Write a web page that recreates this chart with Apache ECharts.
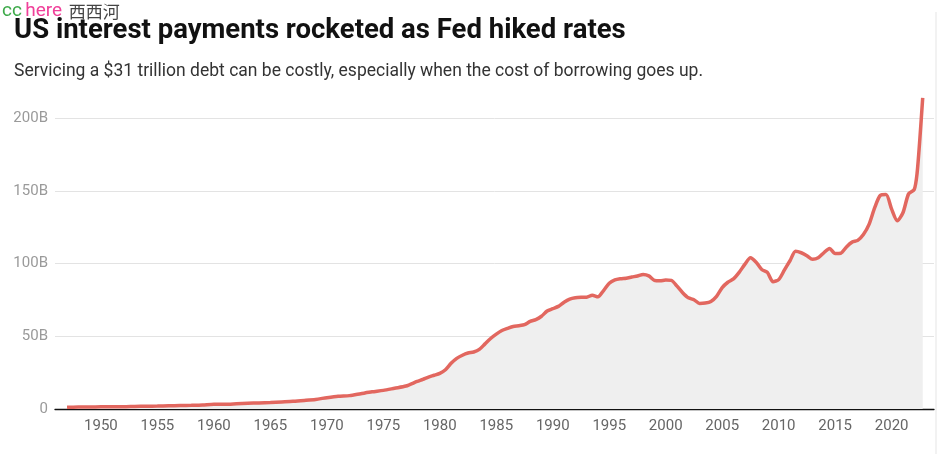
<!DOCTYPE html>
<html>
<head>
<meta charset="utf-8">
<script src="https://cdn.jsdelivr.net/npm/echarts@6/dist/echarts.min.js"></script>
<style>
html,body{margin:0;padding:0;background:#fff;}
#chart{width:937px;height:454px;}
</style>
</head>
<body>
<div id="chart"></div>
<script>
// Dates (decimal years) and quarterly interest payments (billions USD)
var years = [
  1947,1948,1949,1950,1951,1952,1953,1954,1955,1956,1957,1958,1959,1960,1961,1962,1963,1964,1965,1966,
  1967,1968,1969,1970,1971,1972,1973,1974,1975,1976,1977,1978,
  1978.5,1979,1979.5,1980,1980.5,1981,1981.5,1982,1982.5,1983,1983.5,1984,1984.5,1985,1985.5,1986,1986.5,
  1987,1987.5,1988,1988.5,1989,1989.5,1990,1990.5,1991,1991.5,1992,1992.5,1993,1993.5,1994,1994.5,
  1995,1995.5,1996,1996.5,1997,1997.5,1998,1998.5,1999,1999.5,2000,2000.5,2001,2001.5,2002,2002.5,
  2003,2003.5,2004,2004.5,2005,2005.5,2006,2006.5,2007,2007.5,2008,2008.5,2009,2009.5,2010,2010.5,
  2011,2011.5,2012,2012.5,2013,2013.5,2014,2014.5,2015,2015.5,2016,2016.5,2017,2017.5,2018,2018.5,
  2019,2019.5,2020,2020.5,2021,2021.5,2022,2022.25,2022.5,2022.75
];
var payments = [
  1.2,1.3,1.4,1.5,1.6,1.6,1.8,1.9,2.0,2.2,2.4,2.5,2.7,3.3,3.3,3.6,3.9,4.2,4.5,4.9,
  5.3,5.9,6.6,7.8,8.8,9.2,10.5,11.8,12.8,14.3,15.8,19.0,
  20.4,22.0,23.2,24.5,27.0,31.4,34.8,37.0,38.5,39.2,41.0,44.8,48.5,51.5,54.0,55.5,56.8,
  57.3,58.0,60.3,61.5,63.8,67.4,69.0,70.6,73.5,75.6,76.5,76.8,76.9,78.3,77.2,81.5,
  86.5,88.8,89.6,90.0,90.8,91.5,92.5,91.6,88.5,88.2,88.7,88.5,84.5,80.0,76.5,75.2,
  72.6,72.9,74.0,77.5,83.5,87.2,89.5,94.0,99.5,104.0,101.0,96.0,94.0,87.6,89.0,95.5,
  102.0,108.5,107.5,105.5,103.0,104.0,107.5,110.5,107.0,107.2,111.5,114.8,116.0,120.0,127.0,138.5,
  147.0,147.5,137.5,129.5,135.0,148.0,151.0,162.0,186.0,214.0
];
var xTickLabels = [1950,1955,1960,1965,1970,1975,1980,1985,1990,1995,2000,2005,2010,2015,2020];
var yTickValues = [0,50,100,150,200];

var seriesData = years.map(function(y,i){ return [y, payments[i]]; });

var chart = echarts.init(document.getElementById('chart'), null, {renderer:'canvas'});
chart.setOption({
  animation:false,
  backgroundColor:'#ffffff',
  title:[{
    text:'US interest payments rocketed as Fed hiked rates',
    left:9, top:12,
    textStyle:{fontFamily:'Roboto', fontWeight:'bold', fontSize:27.5, color:'#111111'}
  },{
    text:'Servicing a $31 trillion debt can be costly, especially when the cost of borrowing goes up.',
    left:9, top:58,
    textStyle:{fontFamily:'Roboto', fontWeight:'normal', fontSize:17.5, color:'#333333'}
  }],
  graphic:[{
    type:'text', left:2, top:2, z:100,
    style:{
      text:'{a|cc} {b|here}  {c|西西河}',
      rich:{
        a:{fill:'#3daa4a', fontSize:19, fontFamily:'Roboto'},
        b:{fill:'#f0409a', fontSize:19, fontFamily:'Roboto'},
        c:{fill:'#444444', fontSize:17, fontFamily:'Noto Sans CJK SC'}
      }
    }
  },{
    type:'rect', left:935.5, top:12, z:1,
    shape:{width:1, height:442},
    style:{fill:'#e6e6e6'}
  }],
  grid:{left:55, right:3, top:118.3, bottom:45, containLabel:false},
  xAxis:{
    type:'value',
    min:1945.935, max:2023.75,
    axisLine:{show:true, onZero:false, lineStyle:{color:'#111111', width:1.3}},
    axisTick:{show:false},
    splitLine:{show:false},
    axisLabel:{
      customValues:xTickLabels,
      color:'#666666', fontSize:15, fontFamily:'Roboto', margin:10,
      formatter:function(v){ return String(v); }
    }
  },
  yAxis:{
    type:'value',
    min:0, max:200, interval:50,
    axisLine:{show:false},
    axisTick:{show:false},
    splitLine:{show:true, lineStyle:{color:'#e3e3e3', width:1}},
    axisLabel:{
      customValues:yTickValues,
      color:'#9a9a9a', fontSize:15, fontFamily:'Roboto', margin:7,
      formatter:function(v){ return v === 0 ? '0' : v + 'B'; }
    }
  },
  series:[{
    type:'line',
    data:seriesData,
    clip:false,
    showSymbol:false,
    smooth:0.25,
    lineStyle:{color:'#e2675f', width:3.5},
    areaStyle:{color:'#efefef', opacity:1},
    z:3
  }]
});
</script>
</body>
</html>
